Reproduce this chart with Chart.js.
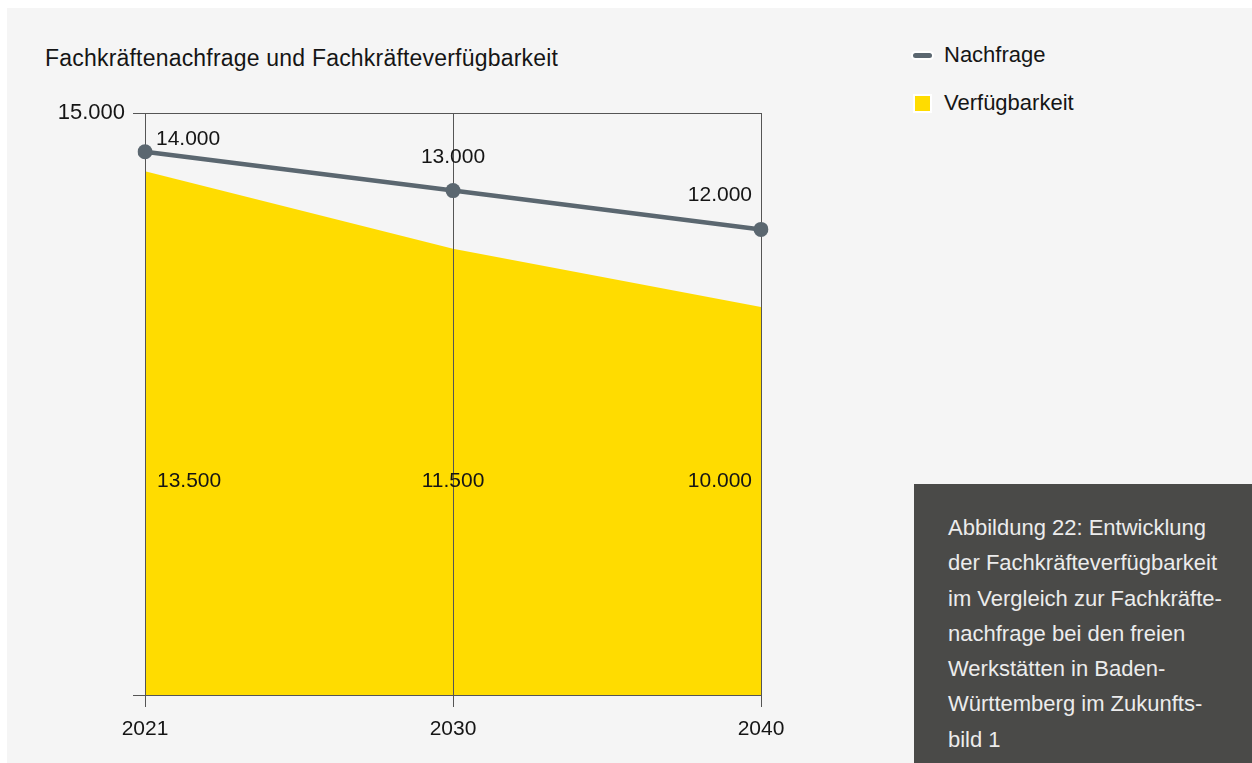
<!DOCTYPE html>
<html>
<head>
<meta charset="utf-8">
<script src="https://cdn.jsdelivr.net/npm/chart.js@4"></script>
<style>
  html, body { margin: 0; padding: 0; background: #ffffff; width: 1252px; height: 763px; overflow: hidden; font-family: "Liberation Sans", Arial, sans-serif; }
  #panel { position: absolute; left: 7px; top: 8px; width: 1245px; height: 755px; background: #f5f5f5; }
  #wrap { position: absolute; left: 0; top: 0; width: 1252px; height: 763px; }
  #title { position: absolute; left: 45px; top: 45px; font-size: 23px; color: #151515; white-space: nowrap; letter-spacing: 0.2px; }
  .leg { position: absolute; left: 944px; font-size: 22px; color: #151515; white-space: nowrap; }
  .legline { position: absolute; left: 913px; width: 19px; height: 5px; border-radius: 3px; background: #5b6770; box-shadow: 0 0 0 2px #ffffff; }
  .legbox { position: absolute; left: 915px; width: 15px; height: 15px; background: #ffdc00; box-shadow: 0 0 0 2px #ffffff; }
  #caption { position: absolute; left: 914px; top: 484px; width: 338px; height: 279px; background: #4a4a48; color: #ececec; font-size: 22px; line-height: 35.3px; box-sizing: border-box; padding: 26px 0 0 34px; white-space: nowrap; }
</style>
</head>
<body>
<div id="panel"></div>
<div id="title">Fachkräftenachfrage und Fachkräfteverfügbarkeit</div>
<div class="legline" style="top:53px"></div>
<div class="leg" style="top:42px">Nachfrage</div>
<div class="legbox" style="top:96px"></div>
<div class="leg" style="top:90px">Verfügbarkeit</div>
<div id="caption">Abbildung 22: Entwicklung<br>der Fachkräfteverfügbarkeit<br>im Vergleich zur Fachkräfte-<br>nachfrage bei den freien<br>Werkstätten in Baden-<br>Württemberg im Zukunfts-<br>bild 1</div>
<div id="wrap"><canvas id="c"></canvas></div>
<script>
const years = ["2021", "2030", "2040"];
const nachfrage = [14000, 13000, 12000];
const verfuegbarkeit = [13500, 11500, 10000];
const yTicks = [0, 15000];

const INK = "#151515";
const GRID = "#555555";
const FONT = '"Liberation Sans", Arial, sans-serif';

function fmt(v) { return v.toLocaleString("de-DE"); }

const overlay = {
  id: "overlay",
  beforeDatasetDraw(chart, args) {
    if (args.index !== 0) return;
    const ctx = chart.ctx, x = chart.scales.x, a = chart.chartArea;
    ctx.save();
    ctx.strokeStyle = GRID;
    ctx.lineWidth = 1;
    ctx.beginPath();
    years.forEach((_, i) => {
      const px = Math.round(x.getPixelForValue(i)) + 0.5;
      ctx.moveTo(px, a.top);
      ctx.lineTo(px, a.bottom);
    });
    ctx.moveTo(a.left, Math.round(a.bottom) + 0.5);
    ctx.lineTo(a.right, Math.round(a.bottom) + 0.5);
    ctx.stroke();
    ctx.restore();
  },
  afterDatasetsDraw(chart) {
    const ctx = chart.ctx, a = chart.chartArea;
    const m0 = chart.getDatasetMeta(0), m1 = chart.getDatasetMeta(1);
    ctx.save();
    ctx.fillStyle = INK;
    ctx.font = "21px " + FONT;
    ctx.textBaseline = "middle";
    const n = years.length;
    m0.data.forEach((pt, i) => {
      let x = pt.x, y;
      if (i === 0) { ctx.textAlign = "left"; x = pt.x + 11; y = pt.y - 13; }
      else if (i === n - 1) { ctx.textAlign = "right"; x = pt.x - 9; y = pt.y - 34; }
      else { ctx.textAlign = "center"; y = pt.y - 33; }
      ctx.fillText(fmt(nachfrage[i]), x, y);
    });
    m1.data.forEach((pt, i) => {
      let x = pt.x;
      const y = a.top + 368;
      if (i === 0) { ctx.textAlign = "left"; x = pt.x + 12; }
      else if (i === n - 1) { ctx.textAlign = "right"; x = pt.x - 9; }
      else { ctx.textAlign = "center"; }
      ctx.fillText(fmt(verfuegbarkeit[i]), x, y);
    });
    ctx.restore();
  }
};

new Chart(document.getElementById("c"), {
  type: "line",
  data: {
    labels: years,
    datasets: [
      {
        label: "Nachfrage",
        data: nachfrage,
        borderColor: "#5b6770",
        backgroundColor: "#5b6770",
        borderWidth: 4.5,
        pointRadius: 7.5,
        pointHoverRadius: 7.5,
        pointBackgroundColor: "#5b6770",
        pointBorderWidth: 0,
        tension: 0,
        fill: false
      },
      {
        label: "Verfügbarkeit",
        data: verfuegbarkeit,
        borderColor: "#ffdc00",
        backgroundColor: "#ffdc00",
        borderWidth: 0,
        pointRadius: 0,
        tension: 0,
        fill: "origin"
      }
    ]
  },
  options: {
    responsive: true,
    maintainAspectRatio: false,
    animation: false,
    events: [],
    layout: { padding: { left: 0, right: 491, top: 113, bottom: 0 } },
    plugins: {
      legend: { display: false },
      tooltip: { enabled: false },
      title: { display: false }
    },
    scales: {
      x: {
        type: "category",
        offset: false,
        afterFit(s) { s.height = 68; },
        grid: { display: true, drawOnChartArea: false, drawTicks: true, tickLength: 12, color: GRID, lineWidth: 1 },
        border: { display: false },
        ticks: { color: INK, font: { family: FONT, size: 21 }, padding: 10, maxRotation: 0, autoSkip: false }
      },
      y: {
        min: 0,
        max: 15000,
        afterFit(s) { s.width = 145; },
        afterBuildTicks(s) { s.ticks = yTicks.map(v => ({ value: v })); },
        grid: { display: true, drawOnChartArea: true, drawTicks: true, tickLength: 12, color: GRID, lineWidth: 1 },
        border: { display: true, color: GRID, width: 1 },
        ticks: {
          color: INK,
          font: { family: FONT, size: 22 },
          padding: 8,
          callback: (v) => (v === 0 ? "" : fmt(v))
        }
      }
    }
  },
  plugins: [overlay]
});
</script>
</body>
</html>
